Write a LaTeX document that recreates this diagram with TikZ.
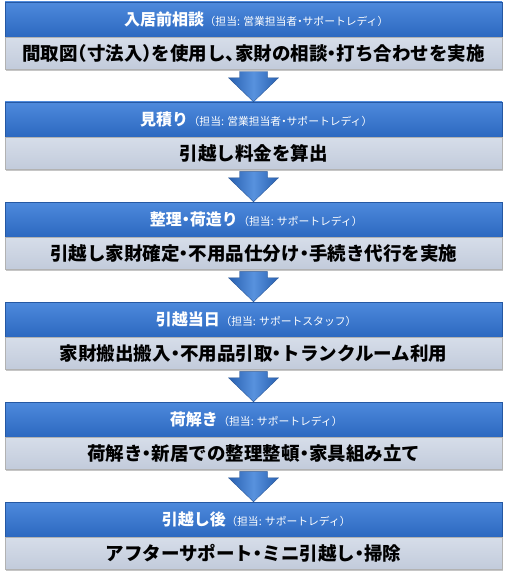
\documentclass[tikz,border=0pt]{standalone}
\usepackage{fontspec}
\setmainfont{Noto Sans CJK JP}[RawFeature=+halt]
\usetikzlibrary{positioning,shadows,calc}

\definecolor{hdrtop}{RGB}{78,138,220}
\definecolor{hdrbot}{RGB}{44,104,192}
\definecolor{bodytop}{RGB}{214,221,233}
\definecolor{bodybot}{RGB}{194,203,219}
\definecolor{arrowdark}{RGB}{40,96,176}
\definecolor{arrowlight}{RGB}{88,146,222}

\newcommand{\tanto}[1]{\hspace{6pt}{\mdseries\fontsize{10.8}{11}\selectfont （担当: #1）}}

\tikzset{
  hdr/.style={rectangle, minimum width=497pt, minimum height=35pt, inner sep=0pt,
    top color=hdrtop, bottom color=hdrbot, draw=hdrbot!85!black, line width=0.4pt,
    text=white, font=\fontsize{16}{16}\selectfont\bfseries},
  body/.style={rectangle, minimum width=497pt, minimum height=32pt, inner sep=0pt,
    top color=bodytop, bottom color=bodybot, draw=gray!60, line width=0.4pt,
    font=\fontsize{18.5}{18.5}\selectfont\bfseries,
    drop shadow={shadow xshift=1pt, shadow yshift=-2pt, opacity=.45}},
  flow/.style={left color=arrowdark, right color=arrowdark, middle color=arrowlight,
    draw=arrowdark!80!black, line width=0.3pt}
}

\begin{document}
\begin{tikzpicture}[x=1pt, y=-1pt]
    \useasboundingbox (0,0) rectangle (507,575);

    % Steps
    \node[hdr] (h1) at (253.5,19.5) {入居前相談\tanto{営業担当者・サポートレディ}};
    \node[body, below=0pt of h1] (b1) {間取図（寸法入）を使用し、家財の相談・打ち合わせを実施};

    \node[hdr] (h2) at (253.5,119.5) {見積り\tanto{営業担当者・サポートレディ}};
    \node[body, below=0pt of h2] (b2) {引越し料金を算出};

    \node[hdr] (h3) at (253.5,219.5) {整理・荷造り\tanto{サポートレディ}};
    \node[body, below=0pt of h3] (b3) {引越し家財確定・不用品仕分け・手続き代行を実施};

    \node[hdr] (h4) at (253.5,319.5) {引越当日\tanto{サポートスタッフ}};
    \node[body, below=0pt of h4] (b4) {家財搬出搬入・不用品引取・トランクルーム利用};

    \node[hdr] (h5) at (253.5,419.5) {荷解き\tanto{サポートレディ}};
    \node[body, below=0pt of h5] (b5) {荷解き・新居での整理整頓・家具組み立て};

    \node[hdr] (h6) at (253.5,519.5) {引越し後\tanto{サポートレディ}};
    \node[body, below=0pt of h6] (b6) {アフターサポート・ミニ引越し・掃除};

    % Arrows between steps
    \draw[flow] ($(b1.south)+(-14,2)$) -- ($(b1.south)+(14,2)$) -- ($(h2.north)+(14,-24)$) -- ($(h2.north)+(25,-24)$) -- (h2.north) -- ($(h2.north)+(-25,-24)$) -- ($(h2.north)+(-14,-24)$) -- cycle;
    \draw[flow] ($(b2.south)+(-14,2)$) -- ($(b2.south)+(14,2)$) -- ($(h3.north)+(14,-24)$) -- ($(h3.north)+(25,-24)$) -- (h3.north) -- ($(h3.north)+(-25,-24)$) -- ($(h3.north)+(-14,-24)$) -- cycle;
    \draw[flow] ($(b3.south)+(-14,2)$) -- ($(b3.south)+(14,2)$) -- ($(h4.north)+(14,-24)$) -- ($(h4.north)+(25,-24)$) -- (h4.north) -- ($(h4.north)+(-25,-24)$) -- ($(h4.north)+(-14,-24)$) -- cycle;
    \draw[flow] ($(b4.south)+(-14,2)$) -- ($(b4.south)+(14,2)$) -- ($(h5.north)+(14,-24)$) -- ($(h5.north)+(25,-24)$) -- (h5.north) -- ($(h5.north)+(-25,-24)$) -- ($(h5.north)+(-14,-24)$) -- cycle;
    \draw[flow] ($(b5.south)+(-14,2)$) -- ($(b5.south)+(14,2)$) -- ($(h6.north)+(14,-24)$) -- ($(h6.north)+(25,-24)$) -- (h6.north) -- ($(h6.north)+(-25,-24)$) -- ($(h6.north)+(-14,-24)$) -- cycle;
\end{tikzpicture}
\end{document}
